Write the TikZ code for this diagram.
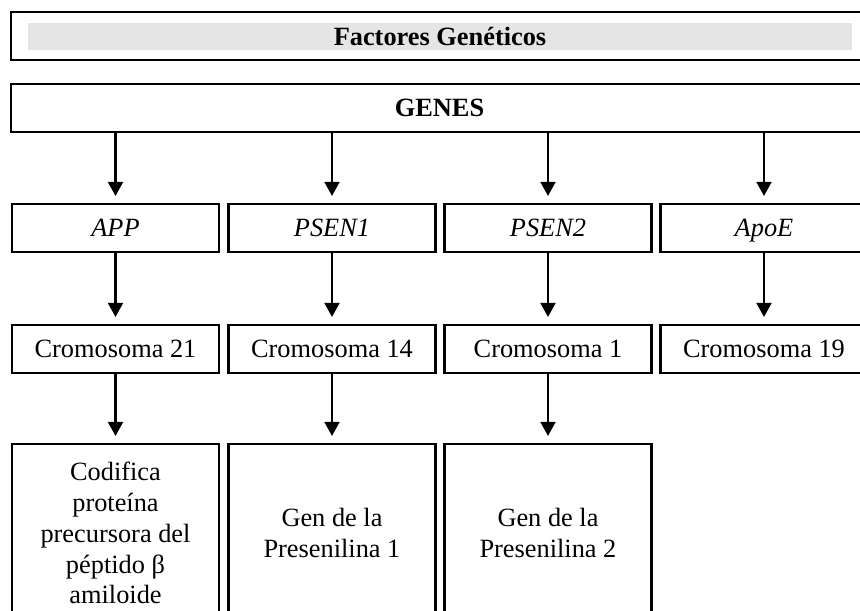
\documentclass[tikz,border=0pt]{standalone}
\usepackage{fontspec}
\setmainfont{Liberation Serif}
\usetikzlibrary{arrows.meta}
\newcommand{\boxWidth}{4.14cm}
\newcommand{\wideWidth}{17.14cm}
\tikzset{
   gbox/.style={draw, line width=1.2pt, minimum width=\boxWidth, minimum height=0.96cm, inner sep=0pt, align=center},
   gline/.style={gbox, text height=9.9pt, text depth=0pt},
   garrow/.style={-{Triangle[width=8.5pt,length=8pt]}, line width=1.2pt, shorten >=0.14cm}
}

\begin{document}
\begin{tikzpicture}[x=0.02cm, y=0.02cm, font=\fontsize{15}{17.6}\selectfont]
         \clip (0,0) rectangle (860,610);

         % titulo y genes
         \node[gbox, minimum width=\wideWidth] (titulo) at (439.5,574) {};
         \node[fill=gray!20, minimum width=16.48cm, minimum height=0.54cm, inner sep=0pt, text height=9.9pt, text depth=0pt] (barra) at (440,573.5) {\textbf{Factores Genéticos}};
         \node[gline, minimum width=\wideWidth] (genes) at (439.5,502) {\textbf{GENES}};

         % genes
         \node[gline] (app)   at (115.5,382) {\textit{APP}};
         \node[gline] (psenA) at (332,382)   {\textit{PSEN1}};
         \node[gline] (psenB) at (548,382)   {\textit{PSEN2}};
         \node[gline] (apoe)  at (764,382)   {\textit{ApoE}};

         % cromosomas
         \node[gline] (cromA) at (115.5,261) {Cromosoma 21};
         \node[gline] (cromB) at (332,261)   {Cromosoma 14};
         \node[gline] (cromC) at (548,261)   {Cromosoma 1};
         \node[gline] (cromD) at (764,261)   {Cromosoma 19};

         % funcion
         \node[gbox, minimum height=3.56cm] (funA) at (115.5,77) {Codifica\\proteína\\precursora del\\péptido β\\amiloide};
         \node[gbox, minimum height=3.56cm] (funB) at (332,77)   {Gen de la\\Presenilina 1};
         \node[gbox, minimum height=3.56cm] (funC) at (548,77)   {Gen de la\\Presenilina 2};

         \draw[garrow] (genes.south -| app.north) -- (app.north);
         \draw[garrow] (genes.south -| psenA.north) -- (psenA.north);
         \draw[garrow] (genes.south -| psenB.north) -- (psenB.north);
         \draw[garrow] (genes.south -| apoe.north) -- (apoe.north);

         \draw[garrow] (app) -- (cromA);
         \draw[garrow] (psenA) -- (cromB);
         \draw[garrow] (psenB) -- (cromC);
         \draw[garrow] (apoe) -- (cromD);

         \draw[garrow] (cromA) -- (funA);
         \draw[garrow] (cromB) -- (funB);
         \draw[garrow] (cromC) -- (funC);
      \end{tikzpicture}
\end{document}
